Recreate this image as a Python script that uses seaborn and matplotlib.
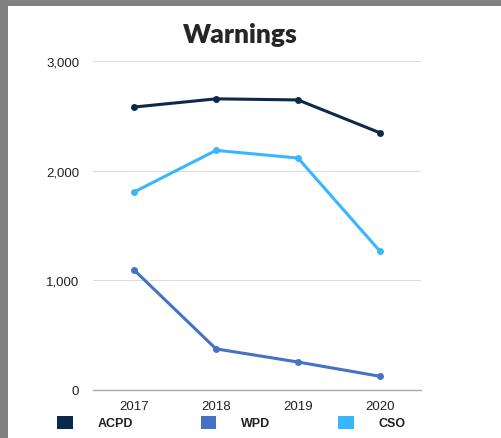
import matplotlib
matplotlib.use("Agg")
import matplotlib.pyplot as plt
import seaborn as sns
import pandas as pd
from matplotlib.patches import Patch, Rectangle

years = ["2017", "2018", "2019", "2020"]
acpd = [2580, 2655, 2645, 2345]
wpd = [1095, 375, 255, 125]
cso = [1805, 2185, 2115, 1265]
series_names = ["ACPD", "WPD", "CSO"]
colors = ["#0b2a4a", "#4472c4", "#38b6ff"]
yticks = [0, 1000, 2000, 3000]

df = pd.DataFrame({
    "year": years * 3,
    "value": acpd + wpd + cso,
    "agency": [s for s in series_names for _ in years],
})

sns.set_theme(style="white")
plt.rcParams["font.family"] = ["Liberation Sans", "DejaVu Sans"]

fig = plt.figure(figsize=(5.01, 4.39), dpi=100)
ax = fig.add_axes([93/501, 1 - 391/439, (421-93)/501, (391-62)/439])

sns.lineplot(data=df, x="year", y="value", hue="agency", palette=colors,
             marker="o", markersize=5, markeredgewidth=0, linewidth=2.2,
             sort=False, ax=ax, legend=False)

ax.set_xlim(-0.5, 3.5)
ax.set_ylim(0, 3000)
ax.set_yticks(yticks)
ax.set_yticklabels([f"{v:,}" for v in yticks])
ax.yaxis.grid(True, color="#dddddd", linewidth=0.8)
ax.set_axisbelow(True)
for s in ["top", "right", "left"]:
    ax.spines[s].set_visible(False)
ax.spines["bottom"].set_color("#aaaaaa")
ax.spines["bottom"].set_linewidth(1.0)
ax.tick_params(axis="y", length=0, pad=10, labelsize=9.5, labelcolor="#222222")
ax.tick_params(axis="x", length=0, pad=7, labelsize=9.5, labelcolor="#222222")
ax.set_xlabel("")
ax.set_ylabel("")

fig.text(240/501, 1 - 35/439, "Warnings", ha="center", va="center",
         fontsize=19, fontweight="heavy", family=["Lato", "DejaVu Sans"])

handles = [Patch(facecolor=c, edgecolor="none") for c in colors]
leg = fig.legend(handles, series_names, loc="center left",
                 bbox_to_anchor=(57/501, 1 - 423.5/439), ncol=3, frameon=False,
                 borderpad=0, borderaxespad=0,
                 handlelength=1.25, handleheight=1.25, handletextpad=2.0,
                 columnspacing=5.4, prop={"weight": "bold", "size": 9})
for t in leg.get_texts():
    t.set_color("#222222")

# gray frame edges
fig.patches.append(Rectangle((0, 1 - 7/439), 1, 7/439, transform=fig.transFigure,
                             facecolor="#808080", edgecolor="none", zorder=10))
fig.patches.append(Rectangle((0, 0), 8/501, 1, transform=fig.transFigure,
                             facecolor="#808080", edgecolor="none", zorder=10))

fig.savefig("out.png", dpi=100)
